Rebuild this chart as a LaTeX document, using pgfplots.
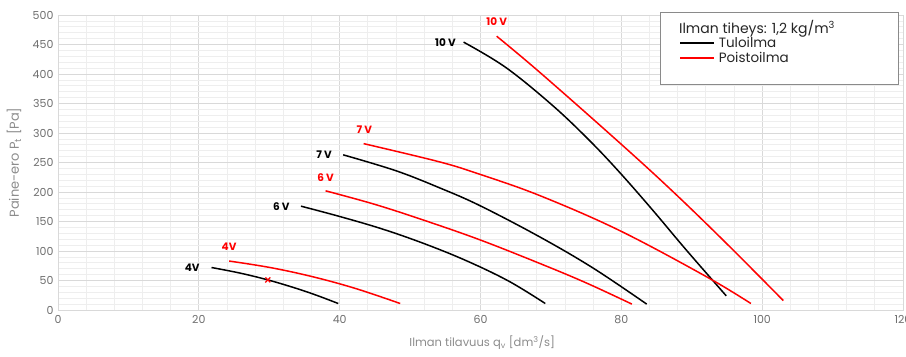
\documentclass[border=0pt]{standalone}
\usepackage{fontspec}
\setmainfont{Poppins}
\usepackage{pgfplots}
\pgfplotsset{compat=1.18}
\definecolor{gridmaj}{HTML}{D9D9D9}
\definecolor{gridmin}{HTML}{EEEEEE}
\definecolor{ticktxt}{HTML}{6E6E6E}
\definecolor{labtxt}{HTML}{8C8C8C}
\definecolor{legbox}{HTML}{8A8A8A}
\definecolor{myred}{HTML}{FF0000}
\begin{document}
\begin{tikzpicture}
\begin{axis}[name=ax,
  width=845pt, height=295pt, scale only axis,
  xmin=0, xmax=120, ymin=0, ymax=500,
  xtick={0,20,...,120}, ytick={0,50,...,500},
  minor x tick num=4, minor y tick num=4,
  grid=both,
  major grid style={draw=gridmaj, line width=0.8pt},
  minor grid style={draw=gridmin, line width=0.7pt},
  axis line style={draw=gridmaj, line width=0.8pt},
  major tick length=0pt, minor tick length=0pt,
  tick label style={font=\fontsize{11}{12}\selectfont, text=ticktxt},
  /pgf/number format/assume math mode=true,
  xticklabel style={yshift=-2pt},
  yticklabel style={xshift=-1pt},
  xlabel={Ilman tilavuus q\textsubscript{v} [dm\textsuperscript{3}/s]},
  ylabel={Paine-ero P\textsubscript{t} [Pa]},
  xlabel style={font=\fontsize{11.5}{14}\selectfont, text=labtxt, at={(rel axis cs:0.502,-0.112)}, anchor=center},
  ylabel style={font=\fontsize{13}{15}\selectfont, text=labtxt, at={(rel axis cs:-0.052,0.5)}, anchor=center},
  clip=false,
  legend cell align=left,
  legend image code/.code={\draw[#1, line width=1.5pt] (0pt,0pt) -- (34pt,0pt);},
  legend style={draw=none, fill=none, at={(axis cs:88.2,465)}, anchor=north west,
    font=\fontsize{13.5}{15}\selectfont, text=black!85, row sep=0pt, inner sep=0pt,
    nodes={inner sep=1.5pt}, column sep=2.5pt},
  every axis plot/.append style={line width=1.5pt, smooth, tension=0.6},
]
% legend box and title
\draw[legbox, fill=white, line width=0.8pt] (axis cs:85.6,505) rectangle (axis cs:119.3,383);
\node[anchor=base west, font=\fontsize{14}{15}\selectfont, text=black!85] at (axis cs:87.7,469) {Ilman tiheys: 1,2 kg/m\textsuperscript{3}};
\addlegendimage{black}
\addlegendentry{Tuloilma}
\addlegendimage{myred}
\addlegendentry{Poistoilma}

% Tuloilma (black)
\addplot[black, forget plot] coordinates {(21.8,72) (25.8,62.7) (29.8,51) (33.8,36.8) (36.8,24.6) (39.8,11)};
\addplot[black, forget plot] coordinates {(34.5,176) (40,158.5) (46,137.5) (52,112.5) (58,83.5) (64,49) (69.2,11)};
\addplot[black, forget plot] coordinates {(40.5,263) (48,236) (54.2,207) (59.9,177) (68.4,124) (76,71) (83.6,10)};
\addplot[black, forget plot] coordinates {(57.6,454) (63.6,411) (70.3,346) (75.5,287) (79.7,234) (84.4,170) (89.2,102) (94.9,24)};
% Poistoilma (red)
\addplot[myred, forget plot] coordinates {(24.3,83) (30.3,71.6) (36.3,56) (42.3,36.3) (48.6,11)};
\addplot[myred, forget plot] coordinates {(38,202) (45,179) (52,152) (59.9,119) (68.4,79) (75,46) (81.5,10)};
\addplot[myred, forget plot] coordinates {(43.4,282) (54.2,251) (59.9,230) (68.4,194) (79.7,135) (92,57) (98.4,11)};
\addplot[myred, forget plot] coordinates {(62.3,464) (68.4,403) (79.7,284) (87.3,201) (95,112) (103,16)};
% marker
\addplot[myred, only marks, mark=x, mark size=3.5pt, line width=1.3pt, forget plot] coordinates {(29.8,51)};

% curve labels
\begin{scope}[every node/.style={font=\fontsize{10.5}{11}\selectfont\bfseries}]
\node[anchor=east] at (axis cs:57,453) {10 V};
\node[anchor=east] at (axis cs:39.4,263) {7 V};
\node[anchor=east] at (axis cs:33.4,176) {6 V};
\node[anchor=east] at (axis cs:20.6,72) {4V};
\node[text=myred] at (axis cs:62.3,488) {10 V};
\node[text=myred] at (axis cs:43.5,305) {7 V};
\node[text=myred] at (axis cs:38,224) {6 V};
\node[text=myred] at (axis cs:24.3,107) {4V};
\end{scope}
\end{axis}
\path (ax.south west) ++(-58pt,-46pt) coordinate (bbA);
\path (ax.north east) ++(3pt,15pt) coordinate (bbB);
\pgfresetboundingbox
\useasboundingbox (bbA) rectangle (bbB);
\end{tikzpicture}
\end{document}
